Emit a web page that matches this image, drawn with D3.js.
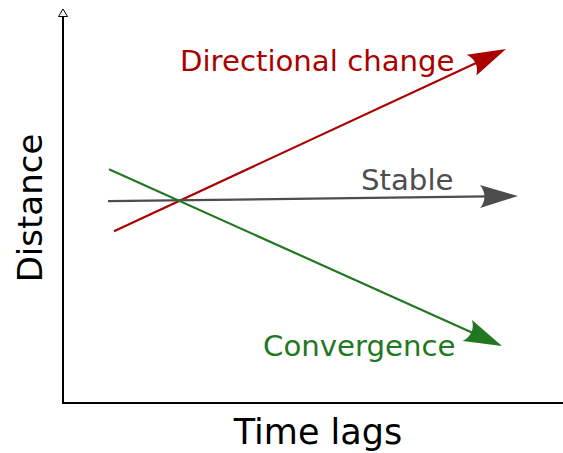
<!DOCTYPE html>
<html>
<head>
    <script src="https://cdnjs.cloudflare.com/ajax/libs/d3/7.8.5/d3.min.js"></script>
    <style>
        body { margin: 0; background: #fff; }
        text { font-family: "DejaVu Sans", Verdana, sans-serif; }
    </style>
</head>
<body>
    <div id="chart"></div>
    <script>
        // schematic values (x = time lag, y = distance)
        const seriesNames = ["Directional change", "Stable", "Convergence"];
        const seriesColors = ["#aa0000", "#4d4d4d", "#217821"];
        const directionalLag = [1.02, 8.86];
        const directionalDist = [4.35, 8.96];
        const stableLag = [0.9, 9.1];
        const stableDist = [5.11, 5.24];
        const convergenceLag = [0.92, 8.78];
        const convergenceDist = [5.92, 1.44];
        const xTitle = "Time lags";
        const yTitle = "Distance";

        const width = 563, height = 453;
        const x = d3.scaleLinear().domain([0, 10]).range([63, 563]);
        const y = d3.scaleLinear().domain([0, 10]).range([403, 8]);

        const svg = d3.select("#chart")
            .append("svg")
            .attr("width", width)
            .attr("height", height);

        const lines = [
            { lag: directionalLag, dist: directionalDist },
            { lag: stableLag, dist: stableDist },
            { lag: convergenceLag, dist: convergenceDist }
        ];

        // arrowheads
        const defs = svg.append("defs");
        seriesColors.forEach((c, i) => {
            defs.append("marker")
                .attr("id", "head" + i)
                .attr("markerUnits", "userSpaceOnUse")
                .attr("viewBox", "-40 -13 42 26")
                .attr("markerWidth", 42)
                .attr("markerHeight", 26)
                .attr("refX", 0)
                .attr("refY", 0)
                .attr("orient", "auto")
                .append("path")
                .attr("d", "M0,0 L-38,-11.5 C-32,-4 -32,4 -38,11.5 Z")
                .attr("fill", c);
        });

        // axes
        svg.append("line")
            .attr("x1", x(0)).attr("x2", x(0))
            .attr("y1", y(0) + 1).attr("y2", y(10) + 8)
            .attr("stroke", "#000").attr("stroke-width", 2);
        svg.append("line")
            .attr("x1", x(0) - 1).attr("x2", x(10))
            .attr("y1", y(0)).attr("y2", y(0))
            .attr("stroke", "#000").attr("stroke-width", 2);
        svg.append("path")
            .attr("d", `M${x(0)},${y(10) + 1} L${x(0) - 4.5},${y(10) + 8.5} L${x(0) + 4.5},${y(10) + 8.5} Z`)
            .attr("fill", "#fff").attr("stroke", "#000").attr("stroke-width", 1);

        // series lines, stopping at the notch of the arrowhead
        lines.forEach((s, i) => {
            const x0 = x(s.lag[0]), y0 = y(s.dist[0]);
            const x1 = x(s.lag[1]), y1 = y(s.dist[1]);
            const len = Math.hypot(x1 - x0, y1 - y0);
            const back = 30;
            svg.append("path")
                .attr("d", `M${x0},${y0} L${x1 - (x1 - x0) / len * back},${y1 - (y1 - y0) / len * back}`)
                .attr("stroke", seriesColors[i])
                .attr("stroke-width", 2.2)
                .attr("fill", "none");
            svg.append("path")
                .attr("d", `M${x0},${y0} L${x1},${y1}`)
                .attr("stroke", "none")
                .attr("fill", "none")
                .attr("marker-end", `url(#head${i})`);
        });

        // series labels
        const labelPos = [[180, 71], [361, 190], [263, 356]];
        seriesNames.forEach((n, i) => {
            svg.append("text")
                .attr("x", labelPos[i][0])
                .attr("y", labelPos[i][1])
                .attr("font-size", 29.2)
                .attr("fill", seriesColors[i])
                .text(n);
        });

        // axis titles
        svg.append("text")
            .attr("x", 318).attr("y", 444)
            .attr("text-anchor", "middle")
            .attr("font-size", 35)
            .text(xTitle);
        svg.append("text")
            .attr("transform", "translate(42,208) rotate(-90)")
            .attr("text-anchor", "middle")
            .attr("font-size", 34)
            .text(yTitle);
    </script>
</body>
</html>
